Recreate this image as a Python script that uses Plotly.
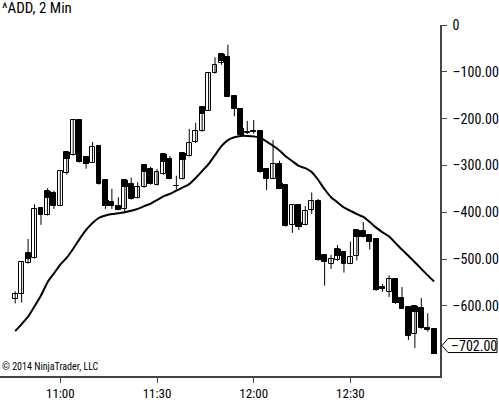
import plotly.graph_objects as go
import pandas as pd

# ---------------- data ----------------
bar_offsets = list(range(-7, 59))          # 2-minute bars, offset from 11:00
session_start = pd.Timestamp("2014-03-03 11:00")
times = [session_start + pd.Timedelta(minutes=2 * k) for k in bar_offsets]

opens = [-586, -574, -508, -498, -391, -406, -360, -386, -316, -278,
         -202, -283, -294, -259, -331, -378, -387, -393, -340, -370,
         -347, -307, -342, -318, -286, -343, -329, -280, -251, -227,
         -183, -103, -81, -69, -152, -179, -229, -226, -227, -307,
         -328, -298, -341, -427, -385, -427, -395, -375, -492, -510,
         -503, -485, -510, -494, -441, -448, -457, -559, -570, -542,
         -583, -602, -661, -604, -648, -650]
highs = [-569, -505, -457, -383, -390, -349, -354, -311, -270, -201,
         -201, -283, -250, -257, -329, -350, -368, -331, -326, -336,
         -298, -303, -308, -275, -280, -322, -273, -222, -209, -175,
         -102, -69, -61, -42, -151, -178, -205, -203, -226, -306,
         -246, -290, -340, -383, -384, -387, -358, -372, -491, -491,
         -470, -484, -463, -437, -421, -447, -455, -553, -535, -541,
         -560, -601, -599, -583, -616, -648]
lows = [-595, -593, -510, -499, -427, -407, -393, -387, -320, -279,
        -294, -307, -295, -341, -393, -393, -396, -402, -373, -371,
        -348, -341, -343, -320, -330, -351, -330, -281, -252, -228,
        -184, -104, -85, -154, -195, -235, -233, -232, -316, -353,
        -329, -351, -431, -444, -438, -428, -404, -504, -557, -521,
        -504, -529, -511, -503, -454, -480, -568, -570, -581, -596,
        -607, -673, -690, -649, -655, -703]
closes = [-574, -506, -487, -393, -406, -354, -386, -312, -271, -202,
          -292, -297, -260, -340, -387, -387, -395, -331, -371, -347,
          -299, -340, -314, -276, -329, -345, -274, -253, -227, -176,
          -103, -85, -62, -153, -179, -234, -231, -228, -315, -329,
          -297, -350, -430, -385, -432, -397, -375, -503, -506, -501,
          -478, -510, -496, -438, -453, -464, -567, -565, -542, -595,
          -606, -665, -600, -648, -651, -702]

# moving average line
ema = [-654, -639, -623, -601, -578, -550, -531, -512, -497, -478,
       -457, -438, -423, -412, -407, -404, -402, -400, -397, -393,
       -387, -382, -374, -366, -361, -354, -347, -340, -327, -312,
       -297, -278, -259, -246, -240, -237, -237, -238, -241, -249,
       -258, -268, -281, -291, -301, -306, -314, -331, -351, -368,
       -379, -390, -397, -404, -410, -421, -433, -443, -452, -466,
       -480, -493, -507, -521, -535, -548]

# close markers shown as wide black blocks on every third bar
mark_offsets = [-5, -2, 1, 4, 7, 10, 13, 16, 19, 22, 25, 28, 31, 34, 37, 40,
                43, 46, 49, 52, 55, 58]
mark_lo = [-499, -370, -287, -297, -387, -347, -315, -292, -288, -191, -76,
           -234, -315, -350, -432, -503, -494, -453, -567, -595, -614, -702]
mark_hi = [-487, -354, -271, -283, -373, -331, -299, -276, -274, -176, -62,
           -221, -302, -337, -420, -490, -478, -438, -554, -582, -600, -689]

x_tick_labels = ["11:00", "11:30", "12:00", "12:30"]
y_tick_values = [0, -100, -200, -300, -400, -500, -600]
y_tick_labels = ["0", "–100.00", "–200.00", "–300.00", "–400.00", "–500.00", "–600.00"]
title_text = "^ADD, 2 Min"
copyright_text = "© 2014 NinjaTrader, LLC"

# ---------------- figure ----------------
FONT = "Liberation Sans Narrow, Arial Narrow, Roboto Condensed, Liberation Sans, Arial, sans-serif"
BAR_MS = 2 * 60 * 1000

fig = go.Figure()

# moving average
fig.add_trace(go.Scatter(x=times, y=ema, mode="lines",
                         line=dict(color="black", width=2, shape="spline", smoothing=0.6),
                         hoverinfo="skip", showlegend=False))

# wicks
wx, wy = [], []
for t, h, l in zip(times, highs, lows):
    wx += [t, t, None]
    wy += [h, l, None]
fig.add_trace(go.Scatter(x=wx, y=wy, mode="lines", line=dict(color="black", width=1),
                         hoverinfo="skip", showlegend=False))

# bodies
base = [min(o, c) for o, c in zip(opens, closes)]
size = [max(abs(c - o), 1.5) for o, c in zip(opens, closes)]
colors = ["white" if c > o else "black" for o, c in zip(opens, closes)]
fig.add_trace(go.Bar(x=times, y=size, base=base, width=0.76 * BAR_MS,
                     marker=dict(color=colors, line=dict(color="black", width=1)),
                     hoverinfo="skip", showlegend=False))

# close blocks
mark_times = [session_start + pd.Timedelta(minutes=2 * k) for k in mark_offsets]
fig.add_trace(go.Bar(x=mark_times, y=[h - l for l, h in zip(mark_lo, mark_hi)], base=mark_lo,
                     width=0.98 * BAR_MS,
                     marker=dict(color="black", line=dict(width=0)),
                     hoverinfo="skip", showlegend=False))

x_start = session_start - pd.Timedelta(minutes=18, seconds=43)
x_end = session_start + pd.Timedelta(minutes=117, seconds=48)
x_ticks = [session_start + pd.Timedelta(minutes=30 * i) for i in range(len(x_tick_labels))]

fig.update_layout(
    width=499, height=400,
    margin=dict(l=0, r=59, t=25, b=24),
    paper_bgcolor="white", plot_bgcolor="white",
    barmode="overlay", bargap=0,
    showlegend=False,
    font=dict(family=FONT, color="black", size=13),
    title=dict(text=title_text, x=0.004, xanchor="left", xref="container",
               y=0.981, yanchor="middle", yref="container",
               font=dict(family=FONT, size=15, color="black")),
    xaxis=dict(type="date", range=[x_start, x_end], showgrid=False, zeroline=False,
               showline=True, linecolor="#444", linewidth=1.5, automargin=False,
               ticks="outside", ticklen=5, tickcolor="#444", tickwidth=1,
               tickvals=x_ticks, ticktext=x_tick_labels,
               tickfont=dict(family=FONT, size=13, color="black")),
    yaxis=dict(side="right", range=[-750, 0], showgrid=False, zeroline=False,
               showline=True, linecolor="#444", linewidth=1.5, automargin=False,
               ticks="outside", ticklen=5, tickcolor="#444", tickwidth=1,
               tickvals=y_tick_values, ticktext=y_tick_labels,
               ticklabelstandoff=3,
               tickfont=dict(family=FONT, size=14, color="black")),
)

# last price tag
last = closes[-1]
fig.add_shape(type="path", xref="paper", yref="y", xsizemode="pixel", ysizemode="pixel",
              xanchor=1, yanchor=last,
              path="M 2 8 L 8 15 L 57 15 L 57 1 L 8 1 Z",
              line=dict(color="black", width=1), fillcolor="white", layer="above")
fig.add_annotation(x=1, xref="paper", y=last, yref="y", xanchor="left", yanchor="middle",
                   xshift=9, yshift=8, showarrow=False,
                   text="–%.2f" % abs(last), font=dict(family=FONT, size=14, color="black"))

fig.add_annotation(x=0, xref="paper", y=0, yref="paper", xanchor="left", yanchor="bottom",
                   xshift=0, yshift=2, showarrow=False, text=copyright_text,
                   font=dict(family=FONT, size=10, color="black"))

fig.write_html("out.html", config={"displayModeBar": False},
               post_script="document.body.style.margin='0';")
